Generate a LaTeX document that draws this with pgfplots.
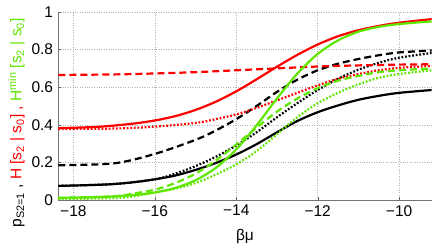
\documentclass[border=0pt]{standalone}
\usepackage{pgfplots}
\pgfplotsset{compat=1.18}
\usepackage{fontspec}
\setmainfont{Liberation Sans}
\definecolor{mgreen}{RGB}{95,230,0}
\begin{document}
\fontsize{15bp}{18bp}\selectfont
\begin{tikzpicture}
\begin{axis}[
  name=ax,
  scale only axis,
  width=373.4bp, height=188bp,
  xmin=-18.37, xmax=-9.2, ymin=0, ymax=1,
  axis x line*=bottom, axis y line*=left,
  axis line style={black!55, line width=0.6pt},
  tick align=inside, major tick length=3bp,
  tick style={black!60},
  xtick={-18,-16,-14,-12,-10},
  xticklabels={−18,−16,−14,−12,−10},
  ytick={0,0.2,0.4,0.6,0.8,1},
  yticklabels={0,0.2,0.4,0.6,0.8,1},
  ymajorgrids, xmajorgrids,
  grid style={black!30, dotted, line width=0.5pt},
  ticklabel style={font=\fontsize{15.5bp}{18bp}\selectfont},
  xlabel={βμ},
  xlabel style={at={(axis description cs:0.5,-0.195)}, anchor=center, font=\fontsize{15.5bp}{18bp}\selectfont},
  ylabel={{\color{black}p\textsubscript{S2=1} ,} {\color{red}H [s\textsubscript{2} | s\textsubscript{0}] ,} {\color{mgreen}H\textsuperscript{min} [s\textsubscript{2} | s\textsubscript{0}]}},
  ylabel style={at={(axis description cs:-0.112,0.41)}, anchor=center, font=\fontsize{15.5bp}{18bp}\selectfont},
  every axis plot/.append style={line width=2.2bp, smooth},
  clip=true,
]
% black solid
\addplot[black] coordinates {(-18.37,0.075)(-17.5,0.08)(-17,0.085)(-16.5,0.095)(-16,0.11)(-15.5,0.13)(-15,0.16)(-14.5,0.197)(-14,0.242)(-13.5,0.297)(-13,0.36)(-12.5,0.42)(-12,0.467)(-11.5,0.503)(-11,0.533)(-10.5,0.554)(-10,0.57)(-9.2,0.585)};
% black dashed
\addplot[black, dash pattern=on 7bp off 4bp] coordinates {(-18.37,0.185)(-17,0.195)(-16,0.245)(-15,0.32)(-14.5,0.37)(-14,0.43)(-13.5,0.50)(-13,0.575)(-12.5,0.64)(-12,0.69)(-11.5,0.725)(-11,0.75)(-10.5,0.77)(-10,0.785)(-9.2,0.795)};
% black dotted
\addplot[black, dash pattern=on 1.8bp off 1.8bp] coordinates {(-18.37,0.075)(-17,0.085)(-16,0.11)(-15.5,0.14)(-15,0.18)(-14.5,0.23)(-14,0.29)(-13.5,0.36)(-13,0.44)(-12.5,0.515)(-12,0.585)(-11.5,0.645)(-11,0.693)(-10.5,0.73)(-10,0.757)(-9.2,0.782)};
% red solid
\addplot[red] coordinates {(-18.37,0.382)(-17.5,0.388)(-17,0.396)(-16.5,0.407)(-16,0.423)(-15.5,0.446)(-15,0.479)(-14.5,0.523)(-14,0.578)(-13.5,0.642)(-13,0.709)(-12.5,0.772)(-12,0.827)(-11.5,0.871)(-11,0.903)(-10.5,0.926)(-10,0.943)(-9.2,0.962)};
% red dashed
\addplot[red, dash pattern=on 7bp off 4bp] coordinates {(-18.37,0.665)(-17,0.668)(-16,0.673)(-15,0.68)(-14,0.69)(-13,0.70)(-12,0.71)(-11,0.716)(-10,0.72)(-9.2,0.722)};
% red dotted
\addplot[red, dash pattern=on 1.8bp off 1.8bp] coordinates {(-18.37,0.378)(-17,0.38)(-16,0.39)(-15,0.41)(-14.5,0.43)(-14,0.455)(-13.5,0.49)(-13,0.53)(-12.5,0.57)(-12,0.61)(-11.5,0.645)(-11,0.67)(-10.5,0.69)(-10,0.703)(-9.2,0.713)};
% green solid
\addplot[mgreen] coordinates {(-18.37,0.012)(-17.5,0.015)(-17,0.019)(-16.5,0.027)(-16,0.040)(-15.5,0.064)(-15,0.105)(-14.5,0.171)(-14,0.269)(-13.5,0.397)(-13,0.540)(-12.5,0.672)(-12,0.777)(-11.5,0.849)(-11,0.895)(-10.5,0.921)(-10,0.936)(-9.2,0.950)};
% green dashed
\addplot[mgreen, dash pattern=on 7bp off 4bp] coordinates {(-18.37,0.01)(-17,0.02)(-16.5,0.035)(-16,0.055)(-15.5,0.09)(-15,0.14)(-14.5,0.21)(-14,0.295)(-13.5,0.385)(-13,0.47)(-12.5,0.54)(-12,0.595)(-11.5,0.635)(-11,0.66)(-10.5,0.68)(-10,0.69)(-9.2,0.70)};
% green dotted
\addplot[mgreen, dash pattern=on 1.8bp off 1.8bp] coordinates {(-18.37,0.005)(-17,0.01)(-16.5,0.02)(-16,0.04)(-15.5,0.06)(-15,0.09)(-14.5,0.135)(-14,0.19)(-13.5,0.26)(-13,0.35)(-12.5,0.44)(-12,0.515)(-11.5,0.57)(-11,0.615)(-10.5,0.65)(-10,0.67)(-9.2,0.69)};
\end{axis}
\pgfresetboundingbox
\path ([shift={(-58.3bp,-45bp)}]ax.south west) rectangle ([shift={(4.3bp,12bp)}]ax.north east);
\end{tikzpicture}
\end{document}
